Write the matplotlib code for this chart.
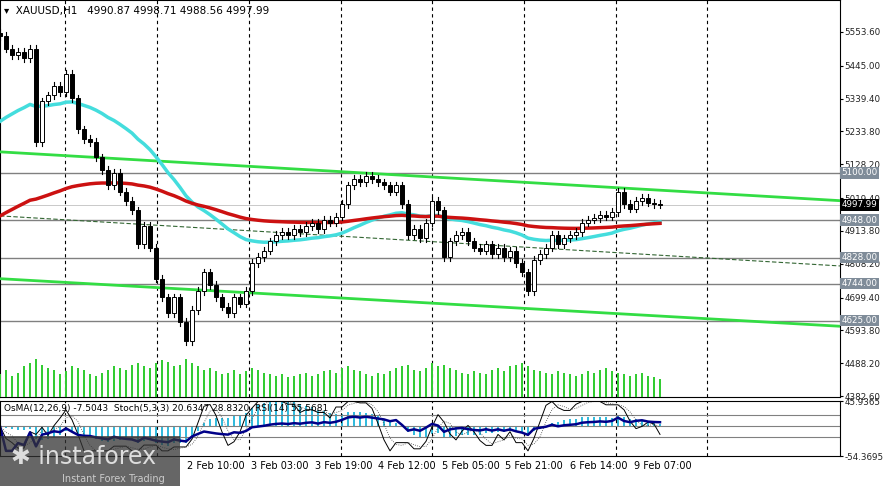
import matplotlib
matplotlib.use("Agg")
import matplotlib.pyplot as plt
import numpy as np
import pandas as pd
from matplotlib.patches import Rectangle

closes = [5540,5500,5480,5490,5470,5500,5200,5330,5350,5380,5360,5420,5340,5240,5210,5200,5150,5110,5060,5100,
          5040,5010,4980,4870,4930,4860,4760,4700,4650,4700,4620,4560,4660,4720,4780,4740,4700,4670,4650,4700,
          4680,4720,4810,4830,4850,4880,4900,4910,4900,4920,4910,4930,4940,4920,4950,4940,4960,5000,5060,5080,
          5070,5090,5080,5070,5060,5040,5060,5000,4900,4920,4890,4940,5010,4980,4830,4880,4900,4910,4880,4860,
          4850,4870,4840,4860,4830,4850,4810,4780,4720,4820,4840,4860,4900,4870,4890,4900,4910,4940,4950,4955,
          4965,4960,4975,5040,5000,4985,5010,5020,5005,5000,4998]
first_open = 5550
volumes = [30,35,28,32,40,45,50,42,38,36,30,34,40,38,35,30,28,32,36,40,
           38,35,42,45,40,38,44,48,46,40,42,50,45,40,36,38,34,30,32,36,
           30,34,38,36,32,30,28,30,26,28,30,32,28,30,34,36,32,38,40,36,
           34,30,28,32,30,34,38,40,42,36,34,38,44,40,42,38,36,32,30,34,
           32,30,36,38,34,40,42,44,40,36,34,32,30,34,32,30,28,30,34,32,
           36,38,34,32,30,28,30,32,28,26,24]
hlines = [5100.00, 4948.00, 4828.00, 4744.00, 4625.00]
price_ticks = [5553.60,5445.00,5339.40,5233.80,5128.20,5019.40,4913.80,4808.20,4699.40,4593.80,4488.20,4382.60]
time_labels = ["2 Feb 10:00","3 Feb 03:00","3 Feb 19:00","4 Feb 12:00","5 Feb 05:00","5 Feb 21:00","6 Feb 14:00","9 Feb 07:00"]
time_label_px = [216,280,344,407,471,534,599,663]
vgrid_px = [65,157,249,341,432,524,616,707]
upper_trend = [(0,5168),(840,5011)]
lower_trend = [(0,4760),(840,4607)]
mid_trend = [(0,4962),(840,4801)]
last_price = 4997.99

PX = 6.0  # pixels per bar
def px2x(p): return p / PX

c = np.array(closes, float)
o = np.concatenate([[first_open], c[:-1]])
n = len(c)
idx = np.arange(n)

fig = plt.figure(figsize=(8.84, 4.86), dpi=100)
ax = fig.add_axes([0.0, 1-397/486, 840/884, 397/486])
ax2 = fig.add_axes([0.0, 1-456/486, 840/884, 55/486])

axv = ax.twinx()
axv.set_ylim(0, 520)
axv.set_xlim(0, px2x(840))
axv.axis('off')
axv.bar(idx, volumes, width=0.25, color='#33cc33', zorder=1)

for a in (ax, ax2):
    a.set_xlim(0, px2x(840))
    a.yaxis.tick_right()
    a.tick_params(axis='y', labelsize=6.3, length=2, pad=1, labelcolor='#222222')
    a.tick_params(axis='x', length=0)
    for s in a.spines.values(): s.set_color('black')

ymin, ymax = 4379.4, 5656.5
ax.set_ylim(ymin, ymax)
ax.set_yticks(price_ticks)
ax.set_yticklabels([f"{t:.2f}" for t in price_ticks])
ax.set_xticks([])

for p in vgrid_px:
    ax.axvline(px2x(p), color='black', ls=(0,(3,3)), lw=0.8)
    ax2.axvline(px2x(p), color='black', ls=(0,(3,3)), lw=0.8)

for h in hlines:
    ax.axhline(h, color='#808080', lw=1.0, zorder=2)
    ax.text(1.002, h, f"{h:.2f}", transform=ax.get_yaxis_transform(), fontsize=6.3, color='white',
            va='center', ha='left', bbox=dict(boxstyle='square,pad=0.15', fc='#7f8c99', ec='none'), zorder=10, clip_on=False)
ax.axhline(last_price, color='#c0c0c0', lw=0.6)
ax.text(1.002, last_price, f"{last_price:.2f}", transform=ax.get_yaxis_transform(), fontsize=6.3, color='white',
        va='center', ha='left', bbox=dict(boxstyle='square,pad=0.15', fc='black', ec='none'), zorder=11, clip_on=False)

for tl in (upper_trend, lower_trend):
    ax.plot([px2x(tl[0][0]), px2x(tl[1][0])], [tl[0][1], tl[1][1]], color='#33dd44', lw=2.0, zorder=3)
ax.plot([px2x(mid_trend[0][0]), px2x(mid_trend[1][0])], [mid_trend[0][1], mid_trend[1][1]],
        color='#336633', lw=0.8, ls=(0,(4,2)), zorder=3)

cyan = pd.Series(np.concatenate([[5250], c])).ewm(alpha=0.055, adjust=False).mean().values[1:]
red = pd.Series(np.concatenate([[4950], c])).ewm(alpha=0.02, adjust=False).mean().values[1:]
ax.plot(idx, cyan, color='#44dddd', lw=2.5, zorder=4)
ax.plot(idx, red, color='#cc1111', lw=2.5, zorder=4)

wick = 12
for i in range(n):
    up = c[i] >= o[i]
    lo, hi = min(o[i], c[i]), max(o[i], c[i])
    ax.plot([i, i], [lo - wick, hi + wick], color='black', lw=0.8, zorder=5)
    ax.add_patch(Rectangle((i-0.3, lo), 0.6, max(hi-lo, 2), fc='white' if up else 'black', ec='black', lw=0.7, zorder=6))

ax.text(0.005, 0.985, "▾  XAUUSD,H1   4990.87 4998.71 4988.56 4997.99", transform=ax.transAxes,
        fontsize=7.5, va='top', ha='left')

s = pd.Series(c)
macd = s.ewm(span=12, adjust=False).mean() - s.ewm(span=26, adjust=False).mean()
osma = (macd - macd.ewm(span=9, adjust=False).mean()).values
ll = s.rolling(5, min_periods=1).min(); hh = s.rolling(5, min_periods=1).max()
k = ((s - ll) / (hh - ll).replace(0, np.nan) * 100).fillna(50).rolling(3, min_periods=1).mean()
dline = k.rolling(3, min_periods=1).mean()
delta = s.diff().fillna(0)
gain = delta.clip(lower=0).ewm(alpha=1/14, adjust=False).mean()
loss = (-delta.clip(upper=0)).ewm(alpha=1/14, adjust=False).mean()
rsi = (100 - 100/(1 + gain/loss.replace(0, np.nan))).fillna(50)

lo2, hi2 = -54.3695, 45.9365
ax2.set_ylim(lo2, hi2)
ax2.set_yticks([hi2, lo2])
ax2.set_yticklabels(["45.9365", "-54.3695"])
ax2.set_xticks([px2x(p) for p in time_label_px])
ax2.set_xticklabels(time_labels, fontsize=7)
for lv in (20, 0, -20):
    ax2.axhline(lv, color='#808080', lw=0.8)
ax2.bar(idx, osma, width=0.3, color='#33bbdd')
ax2.plot(idx, (k - 50)*0.9, color='black', lw=0.7)
ax2.plot(idx, (dline - 50)*0.9, color='#444444', lw=0.6, ls=':')
ax2.plot(idx, (rsi - 50)*0.9, color='#000088', lw=1.8)
ax2.text(0.005, 0.95, "OsMA(12,26,9) -7.5043  Stoch(5,3,3) 20.6347 28.8320  RSI(14) 55.5681",
         transform=ax2.transAxes, fontsize=6.5, va='top')

fig.patches.append(Rectangle((0, 0), 180/884, 50/486, transform=fig.transFigure, fc='#333333', alpha=0.75, zorder=20))
fig.text(0.012, 0.045, "✱ instaforex", fontsize=17, color='#dddddd', zorder=21, family='DejaVu Sans')
fig.text(0.07, 0.008, "Instant Forex Trading", fontsize=7, color='#cccccc', zorder=21)

fig.savefig("out.png", dpi=100, facecolor='white')
